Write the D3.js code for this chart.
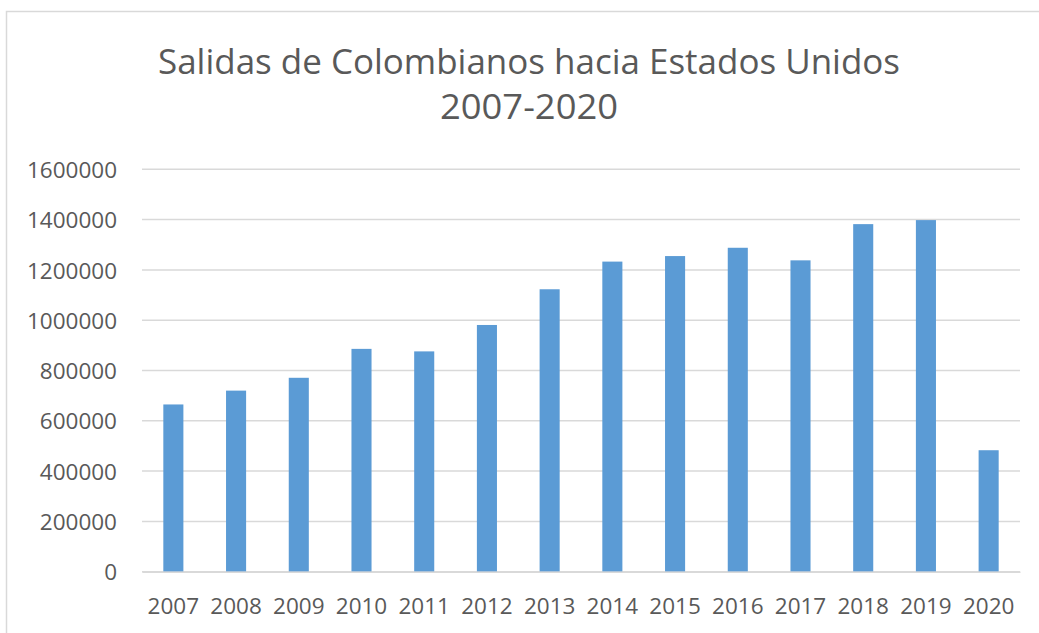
<!DOCTYPE html>
<html>
<head>
<meta charset="utf-8">
<script src="https://cdn.jsdelivr.net/npm/d3@7"></script>
<style>
  html, body { margin: 0; padding: 0; background: #fff; }
  svg { display: block; }
</style>
</head>
<body>
<script>
const years = ["2007","2008","2009","2010","2011","2012","2013","2014","2015","2016","2017","2018","2019","2020"];
const salidas = [665000, 720000, 771000, 886000, 876000, 981000, 1123000, 1233000, 1255000, 1288000, 1238000, 1382000, 1398000, 483000];
const yTicks = [0, 200000, 400000, 600000, 800000, 1000000, 1200000, 1400000, 1600000];
const titleLines = ["Salidas de Colombianos  hacia Estados Unidos", "2007-2020"];

const W = 1039, H = 633;
const svg = d3.select("body").append("svg").attr("width", W).attr("height", H);

// chart frame
svg.append("rect")
  .attr("x", 6.5).attr("y", 11.5)
  .attr("width", 1060).attr("height", 700)
  .attr("fill", "#fff").attr("stroke", "#d9d9d9").attr("stroke-width", 1.5);

const x = d3.scaleBand().domain(years).range([142, 1020]).paddingInner(0.68).paddingOuter(0.34);
const y = d3.scaleLinear().domain([0, 1600000]).range([571.7, 169.3]);

// gridlines
svg.append("g").selectAll("line").data(yTicks).join("line")
  .attr("x1", 142).attr("x2", 1020)
  .attr("y1", d => y(d)).attr("y2", d => y(d))
  .attr("stroke", "#d9d9d9").attr("stroke-width", 1.5);

// y axis labels
const yAxis = d3.axisLeft(y).tickValues(yTicks).tickSize(0).tickPadding(0).tickFormat(d3.format("d"));
const gy = svg.append("g").attr("transform", "translate(117,0)").call(yAxis);
gy.select(".domain").remove();
gy.selectAll("text")
  .attr("font-family", "'Open Sans', sans-serif")
  .attr("font-size", 22.5)
  .attr("fill", "#595959")
  .attr("dy", "0.36em");

// bars
svg.append("g").selectAll("rect").data(years).join("rect")
  .attr("x", d => x(d))
  .attr("width", x.bandwidth())
  .attr("y", (d, i) => y(salidas[i]))
  .attr("height", (d, i) => y(0) - y(salidas[i]))
  .attr("fill", "#5b9bd5");

// baseline axis
const xAxis = d3.axisBottom(x).tickSize(0).tickPadding(0);
const gx = svg.append("g").attr("transform", `translate(0,${y(0)})`).call(xAxis);
gx.select(".domain").attr("stroke", "#d9d9d9").attr("stroke-width", 1.5);
gx.selectAll("text")
  .attr("font-family", "'Open Sans', sans-serif")
  .attr("font-size", 22.5)
  .attr("fill", "#595959")
  .attr("dy", null)
  .attr("y", 614 - y(0))
  .attr("dominant-baseline", "auto");

// title
const t = svg.append("g").style("white-space", "pre");
t.append("text")
  .attr("x", 529).attr("y", 73.5)
  .attr("text-anchor", "middle")
  .attr("font-family", "'Open Sans', sans-serif")
  .attr("font-size", 35)
  .attr("fill", "#595959")
  .attr("textLength", 742)
  .attr("lengthAdjust", "spacingAndGlyphs")
  .text(titleLines[0]);
t.append("text")
  .attr("x", 529).attr("y", 118.5)
  .attr("text-anchor", "middle")
  .attr("font-family", "'Open Sans', sans-serif")
  .attr("font-size", 35)
  .attr("fill", "#595959")
  .attr("textLength", 178)
  .attr("lengthAdjust", "spacingAndGlyphs")
  .text(titleLines[1]);
</script>
</body>
</html>
